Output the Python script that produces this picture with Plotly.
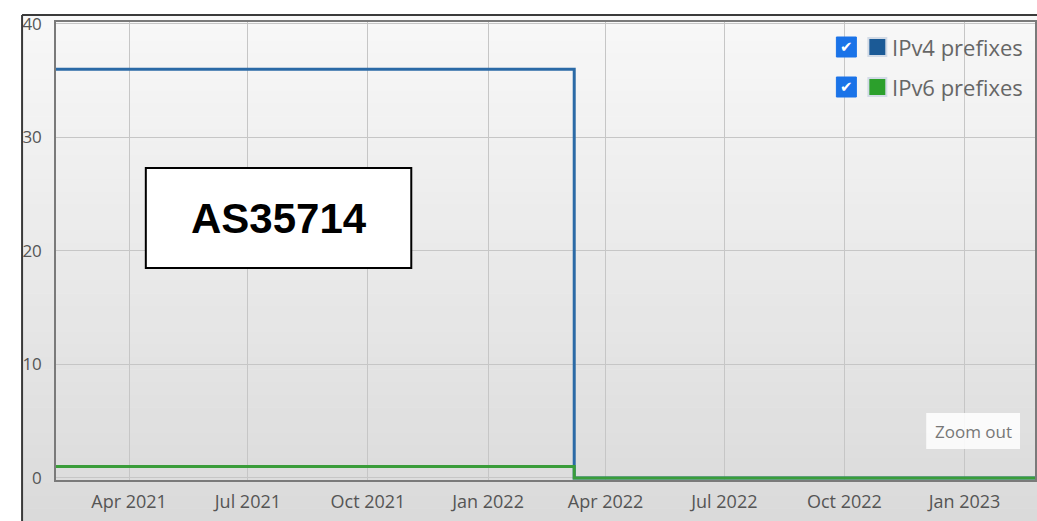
import plotly.graph_objects as go

# ---- data ----
dates = ["2021-02-04", "2022-03-08", "2023-02-24"]
ipv4_prefixes = [36, 0, 0]
ipv6_prefixes = [1, 0, 0]
series_names = ["IPv4 prefixes", "IPv6 prefixes"]
series_colors = ["#2b6aa6", "#3a9d3a"]
legend_swatch = ["#1b5a96", "#2ca02c"]
tick_dates = ["2021-04-01", "2021-07-01", "2021-10-01", "2022-01-01",
              "2022-04-01", "2022-07-01", "2022-10-01", "2023-01-01"]
tick_text = ["Apr 2021", "Jul 2021", "Oct 2021", "Jan 2022",
             "Apr 2022", "Jul 2022", "Oct 2022", "Jan 2023"]
y_ticks = [0, 10, 20, 30, 40]
label_text = "AS35714"

W, H = 1037, 521
L, T, B = 56, 22, 480
PW, PH = W - L, B - T


def px_x(p):
    return (p - L) / PW


def px_y(p):
    return (B - p) / PH


fig = go.Figure()
fig.add_trace(go.Scatter(x=dates, y=ipv4_prefixes, name=series_names[0],
                         mode="lines", line=dict(color=series_colors[0], width=3, shape="hv")))
fig.add_trace(go.Scatter(x=dates, y=ipv6_prefixes, name=series_names[1],
                         mode="lines", line=dict(color=series_colors[1], width=3, shape="hv")))

shapes = []
# gradient background inside the outer frame
n = 40
top_px, bot_px = 15, H
c0, c1 = 248, 218
for i in range(n):
    y0p = top_px + (bot_px - top_px) * i / n
    y1p = top_px + (bot_px - top_px) * (i + 1) / n
    c = round(c0 + (c1 - c0) * (i + 0.5) / n)
    shapes.append(dict(type="rect", xref="paper", yref="paper", layer="below",
                       x0=px_x(22), x1=px_x(W + 2), y0=px_y(y1p + 0.5), y1=px_y(y0p),
                       fillcolor=f"rgb({c},{c},{c})", line=dict(width=0)))
# outer frame lines
shapes.append(dict(type="line", xref="paper", yref="paper", x0=px_x(22), x1=px_x(22),
                   y0=px_y(H + 2), y1=px_y(15), line=dict(color="#3a3a3a", width=2)))
shapes.append(dict(type="line", xref="paper", yref="paper", x0=px_x(22), x1=px_x(W + 2),
                   y0=px_y(15), y1=px_y(15), line=dict(color="#3a3a3a", width=2)))
# label box
shapes.append(dict(type="rect", xref="paper", yref="paper", x0=px_x(146), x1=px_x(412),
                   y0=px_y(268), y1=px_y(168), fillcolor="white",
                   line=dict(color="black", width=2)))
# zoom out button
shapes.append(dict(type="rect", xref="paper", yref="paper", x0=px_x(928), x1=px_x(1022),
                   y0=px_y(449), y1=px_y(413), fillcolor="rgba(255,255,255,0.85)",
                   line=dict(width=0)))

annotations = [
    dict(xref="paper", yref="paper", x=px_x(279), y=px_y(218), text=f"<b>{label_text}</b>",
         showarrow=False, font=dict(family="Liberation Sans", size=42, color="black"),
         xanchor="center", yanchor="middle"),
    dict(xref="paper", yref="paper", x=px_x(975), y=px_y(431), text="Zoom out",
         showarrow=False, font=dict(family="Open Sans", size=17, color="#777777"),
         xanchor="center", yanchor="middle"),
]

# custom legend with checkboxes
for i, (name, sw) in enumerate(zip(series_names, legend_swatch)):
    cy = 47 + 40 * i
    shapes.append(dict(type="rect", xref="paper", yref="paper", x0=px_x(838), x1=px_x(858),
                       y0=px_y(cy + 10), y1=px_y(cy - 10), fillcolor="#1a73e8",
                       line=dict(color="#1a73e8", width=1)))
    shapes.append(dict(type="rect", xref="paper", yref="paper", x0=px_x(870), x1=px_x(888),
                       y0=px_y(cy + 9), y1=px_y(cy - 9), fillcolor=sw,
                       line=dict(color="#d3dbe6", width=2)))
    annotations.append(dict(xref="paper", yref="paper", x=px_x(848), y=px_y(cy), text="✔",
                            showarrow=False, font=dict(family="DejaVu Sans", size=15, color="white"),
                            xanchor="center", yanchor="middle"))
    annotations.append(dict(xref="paper", yref="paper", x=px_x(892), y=px_y(cy), text=name,
                            showarrow=False, font=dict(family="Open Sans", size=22, color="#666666"),
                            xanchor="left", yanchor="middle"))

fig.update_layout(
    width=W, height=H,
    margin=dict(l=L, r=0, t=T, b=H - B),
    paper_bgcolor="white",
    plot_bgcolor="rgba(0,0,0,0)",
    showlegend=False,
    shapes=shapes,
    annotations=annotations,
    xaxis=dict(type="date", range=["2021-02-04", "2023-02-24"],
               tickvals=tick_dates, ticktext=tick_text, ticks="",
               ticklabelstandoff=5,
               showgrid=True, gridcolor="#c6c6c6", gridwidth=1,
               showline=True, linecolor="#7a7a7a", linewidth=1.5, mirror=True,
               tickfont=dict(family="Open Sans", size=18, color="#555555"),
               zeroline=False, fixedrange=True),
    yaxis=dict(range=[-0.18, 40.17], tickvals=y_ticks, ticks="",
               ticklabelstandoff=9,
               showgrid=True, gridcolor="#c6c6c6", gridwidth=1,
               showline=True, linecolor="#7a7a7a", linewidth=1.5, mirror=True,
               tickfont=dict(family="Open Sans", size=17, color="#555555"),
               zeroline=False, fixedrange=True),
)

fig.write_html("out.html", config={"displayModeBar": False},
               post_script="document.body.style.margin='0';document.body.style.overflow='hidden';")
